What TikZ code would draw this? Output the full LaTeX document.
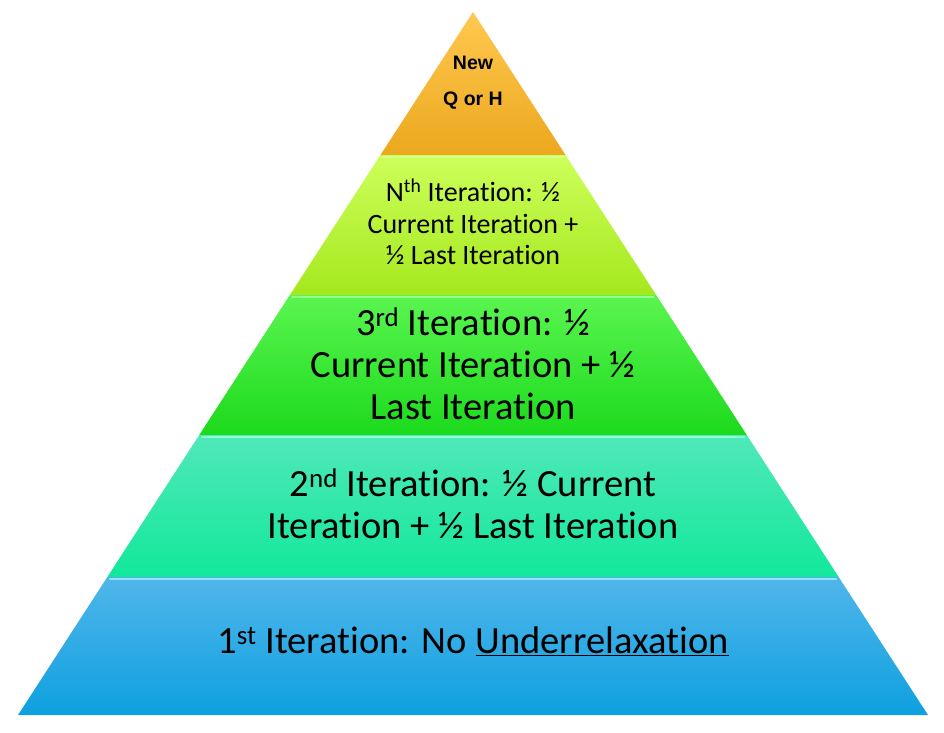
\documentclass[tikz,border=0pt]{standalone}
\usepackage{fontspec}
\setmainfont[Ligatures={NoCommon,NoRare,NoDiscretionary}]{Carlito}
\newfontfamily\topfont{Liberation Sans}
\begin{document}
\begin{tikzpicture}[x=1pt,y=-1pt,
  lvl/.style={draw=none},
  txt/.style={align=center,inner sep=0pt},
  strip/.style={line width=2.5pt,line cap=round}]
\useasboundingbox (0,0) rectangle (944,732);
\def\lx#1{473-(#1-12)*0.6472}
\def\rx#1{473+(#1-12)*0.6472}
% levels
\shade[lvl,top color={rgb,255:red,255;green,200;blue,80},bottom color={rgb,255:red,236;green,168;blue,30}]
  (473,12) -- ({\rx{155}},155) -- ({\lx{155}},155) -- cycle;
\shade[lvl,top color={rgb,255:red,205;green,255;blue,90},bottom color={rgb,255:red,165;green,232;blue,30}]
  ({\lx{155}},155) -- ({\rx{155}},155) -- ({\rx{295}},295) -- ({\lx{295}},295) -- cycle;
\shade[lvl,top color={rgb,255:red,90;green,245;blue,80},bottom color={rgb,255:red,28;green,218;blue,28}]
  ({\lx{295}},295) -- ({\rx{295}},295) -- ({\rx{435}},435) -- ({\lx{435}},435) -- cycle;
\shade[lvl,top color={rgb,255:red,80;green,232;blue,185},bottom color={rgb,255:red,18;green,232;blue,155}]
  ({\lx{435}},435) -- ({\rx{435}},435) -- ({\rx{577}},577) -- ({\lx{577}},577) -- cycle;
\shade[lvl,top color={rgb,255:red,80;green,182;blue,234},bottom color={rgb,255:red,14;green,160;blue,224}]
  ({\lx{577}},577) -- ({\rx{577}},577) -- ({\rx{715}},715) -- ({\lx{715}},715) -- cycle;
% highlight strips
\draw[strip,color={rgb,255:red,215;green,255;blue,140}] ({\lx{157}+4},157) -- ({\rx{157}-4},157);
\draw[strip,color={rgb,255:red,150;green,255;blue,140}] ({\lx{297}+4},297) -- ({\rx{297}-4},297);
\draw[strip,color={rgb,255:red,140;green,255;blue,215}] ({\lx{437}+4},437) -- ({\rx{437}-4},437);
\draw[strip,color={rgb,255:red,150;green,225;blue,250}] ({\lx{579}+4},579) -- ({\rx{579}-4},579);
% texts
\node[txt,font=\topfont\bfseries\fontsize{19.5}{36}\selectfont] (t1) at (473,83) {New\\Q or H};
\node[txt,font=\fontsize{28}{31.5}\selectfont] (t2) at (473,222) {N\textsuperscript{th} Iteration: ½\\Current Iteration +\\½ Last Iteration};
\node[txt,font=\fontsize{38.5}{42}\selectfont] (t3) at (473,364) {3\textsuperscript{rd} Iteration: ½\\Current Iteration + ½\\Last Iteration};
\node[txt,font=\fontsize{38.5}{42}\selectfont] (t4) at (473,504) {2\textsuperscript{nd} Iteration: ½ Current\\Iteration + ½ Last Iteration};
\node[txt,font=\fontsize{38.5}{42}\selectfont] (t5) at (473,641) {1\textsuperscript{st} Iteration: No \underline{Underrelaxation}};
\end{tikzpicture}
\end{document}
